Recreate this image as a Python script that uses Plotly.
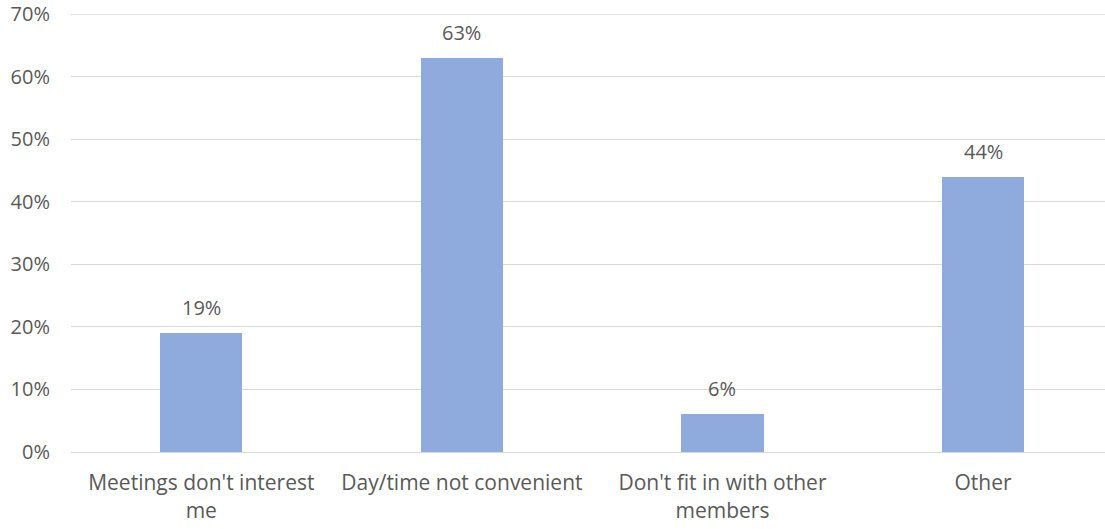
import plotly.graph_objects as go

categories = ["Meetings don't interest<br>me", "Day/time not convenient",
              "Don't fit in with other<br>members", "Other"]
values = [0.19, 0.63, 0.06, 0.44]
labels = ["19%", "63%", "6%", "44%"]
y_ticks = [0, 0.1, 0.2, 0.3, 0.4, 0.5, 0.6, 0.7]
y_tick_labels = ["0%", "10%", "20%", "30%", "40%", "50%", "60%", "70%"]

font_family = "Open Sans"
text_color = "#595959"
bar_color = "#8FAADC"
grid_color = "#D9D9D9"

idx = list(range(len(categories)))

fig = go.Figure()
fig.add_trace(go.Bar(
    x=idx, y=values, width=0.315,
    marker=dict(color=bar_color, line=dict(width=0)),
    hoverinfo="skip",
))

for i, v, t in zip(idx, values, labels):
    fig.add_annotation(x=i, y=v, text=t, showarrow=False, yanchor="bottom",
                       yshift=10, font=dict(family=font_family, size=20, color=text_color))

# top gridline (at the edge of the plot area)
fig.add_shape(type="line", xref="paper", yref="y", x0=0, x1=1,
              y0=y_ticks[-1], y1=y_ticks[-1], layer="below",
              line=dict(color=grid_color, width=1))

fig.update_layout(
    width=1105, height=529,
    margin=dict(l=71, r=0, t=14, b=77),
    paper_bgcolor="white", plot_bgcolor="white",
    showlegend=False,
    font=dict(family=font_family, size=20, color=text_color),
    bargap=0,
)
fig.update_xaxes(
    tickmode="array", tickvals=idx, ticktext=categories,
    range=[-0.5, 3.468], showgrid=False, zeroline=False,
    showline=True, linecolor=grid_color, linewidth=1,
    ticks="", ticklabelstandoff=12, automargin=False,
    ticklabeloverflow="allow",
    tickfont=dict(family=font_family, size=21, color=text_color),
)
fig.update_yaxes(
    tickmode="array", tickvals=y_ticks, ticktext=y_tick_labels,
    range=[0, 0.7005], showgrid=True, gridcolor=grid_color, gridwidth=1,
    zeroline=False, showline=False, ticks="", ticklabelstandoff=20,
    automargin=False, ticklabeloverflow="allow",
    tickfont=dict(family=font_family, size=20, color=text_color),
)

fig.write_html("out.html", config={"displayModeBar": False},
               post_script="document.body.style.margin='0';")
